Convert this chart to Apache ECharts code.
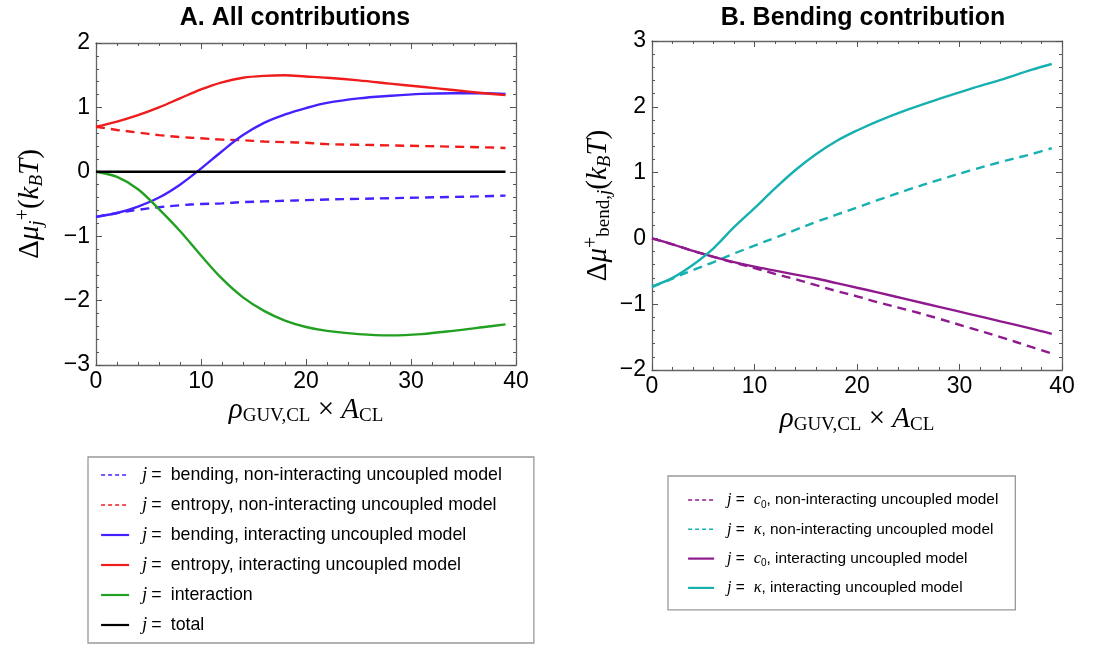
<!DOCTYPE html>
<html>
<head>
<meta charset="utf-8">
<script src="https://cdn.jsdelivr.net/npm/echarts@6/dist/echarts.min.js"></script>
<style>
html,body{margin:0;padding:0;background:#fff;}
#main{width:1112px;height:648px;}
</style>
</head>
<body>
<div id="main"></div>
<script>
// x values shared by all curves
var xs = [0, 2, 4, 6, 8, 10, 12, 14, 16, 18, 20, 22, 25, 28, 31, 34, 37, 39];

// A. all contributions
var bendNonInt    = [-0.70, -0.64, -0.59, -0.55, -0.52, -0.50, -0.49, -0.47, -0.46, -0.45, -0.44, -0.43, -0.42, -0.41, -0.40, -0.39, -0.38, -0.37];
var entropyNonInt = [0.70, 0.65, 0.61, 0.57, 0.54, 0.52, 0.50, 0.49, 0.47, 0.46, 0.45, 0.43, 0.42, 0.41, 0.40, 0.39, 0.38, 0.37];
var bendInt       = [-0.70, -0.64, -0.54, -0.40, -0.20, 0.05, 0.32, 0.57, 0.76, 0.89, 0.99, 1.07, 1.14, 1.18, 1.21, 1.22, 1.22, 1.21];
var entropyInt    = [0.70, 0.78, 0.88, 1.00, 1.14, 1.28, 1.39, 1.46, 1.49, 1.50, 1.48, 1.46, 1.42, 1.37, 1.32, 1.27, 1.22, 1.19];
var interaction   = [0, -0.08, -0.27, -0.58, -0.92, -1.30, -1.66, -1.95, -2.16, -2.31, -2.41, -2.47, -2.52, -2.54, -2.52, -2.47, -2.41, -2.37];
var total         = [0, 0, 0, 0, 0, 0, 0, 0, 0, 0, 0, 0, 0, 0, 0, 0, 0, 0];

// B. bending contribution
var c0NonInt    = [0, -0.09, -0.19, -0.28, -0.37, -0.45, -0.54, -0.62, -0.71, -0.80, -0.88, -0.97, -1.09, -1.22, -1.36, -1.50, -1.65, -1.75];
var kappaNonInt = [-0.74, -0.61, -0.48, -0.36, -0.23, -0.11, 0.01, 0.13, 0.25, 0.36, 0.47, 0.58, 0.74, 0.89, 1.03, 1.16, 1.28, 1.37];
var c0Int       = [0, -0.09, -0.19, -0.28, -0.36, -0.43, -0.49, -0.55, -0.61, -0.68, -0.75, -0.82, -0.93, -1.04, -1.15, -1.26, -1.37, -1.45];
var kappaInt    = [-0.73, -0.60, -0.40, -0.15, 0.17, 0.46, 0.76, 1.04, 1.28, 1.48, 1.64, 1.78, 1.96, 2.12, 2.27, 2.41, 2.56, 2.65];

// min, max, interval
var xTicks = [0, 40, 10];
var yTicksA = [-3, 2, 1];
var yTicksB = [-2, 3, 1];

function pairs(ys) {
	return xs.map(function (x, i) { return [x, ys[i]]; });
}

var BLUE = '#4422ff', RED = '#f01c1c', GREEN = '#22a022', BLACK = '#000000';
var TEAL = '#17b0b0', PURPLE = '#8e1a8e';
var DASH = [9, 6];

var chart = echarts.init(document.getElementById('main'));

var mathRich = {
	n: {fontFamily: 'Liberation Serif', fontSize: 29, color: '#000'},
	i: {fontFamily: 'Liberation Serif', fontStyle: 'italic', fontSize: 29, color: '#000'},
	sb: {fontFamily: 'Liberation Serif', fontSize: 19, color: '#000', verticalAlign: 'bottom', padding: [9, 0, 0, 0]},
	sbi: {fontFamily: 'Liberation Serif', fontStyle: 'italic', fontSize: 19, color: '#000', verticalAlign: 'bottom', padding: [9, 0, 0, 0]},
	sp: {fontFamily: 'Liberation Serif', fontSize: 20, color: '#000', verticalAlign: 'top', padding: [0, 0, 11, 0]}
};

function minus(v) {
	return String(v).replace('-', '\u2212');
}

function frameAxes(grid, range, isX, name, gap) {
	var tick = {show: true, inside: true, length: 6, lineStyle: {color: '#555', width: 1}};
	var minor = {show: true, splitNumber: 5, length: 3, lineStyle: {color: '#555', width: 1}};
	var line = {show: true, onZero: false, lineStyle: {color: '#666', width: 1.3}};
	var main = {
		type: 'value', gridIndex: grid, min: range[0], max: range[1], interval: range[2],
		axisLine: line, axisTick: tick, minorTick: minor, splitLine: {show: false},
		axisLabel: {color: '#000', fontFamily: 'Liberation Sans', fontSize: 23, margin: isX ? 5 : 6, formatter: minus},
		name: name, nameLocation: 'middle', nameGap: gap,
		nameTextStyle: {rich: mathRich, lineHeight: 32}
	};
	if (!isX) main.nameRotate = 90;
	var other = {
		type: 'value', gridIndex: grid, min: range[0], max: range[1], interval: range[2],
		position: isX ? 'top' : 'right',
		axisLine: line, axisTick: tick, minorTick: minor, splitLine: {show: false},
		axisLabel: {show: false}
	};
	return [main, other];
}

var xName = '{i|ρ}{sb|GUV,CL}{n| × }{i|A}{sb|CL}';
var yNameA = '{n|Δ}{i|μ}{sbi|j}{sp|+}{n|(}{i|k}{sbi|B}{i|T}{n|)}';
var yNameB = '{n|Δ}{i|μ}{sp|+}{sb|bend,}{sbi|j}{n|(}{i|k}{sbi|B}{i|T}{n|)}';

var xAxes = frameAxes(0, xTicks, true, xName, 28).concat(frameAxes(1, xTicks, true, xName, 28));
var yAxes = frameAxes(0, yTicksA, false, yNameA, 50).concat(frameAxes(1, yTicksB, false, yNameB, 38));

function line(name, data, color, dashed, xi, yi) {
	return {
		name: name, type: 'line', xAxisIndex: xi, yAxisIndex: yi,
		data: pairs(data), showSymbol: false, symbol: 'none', smooth: 0.35,
		lineStyle: {color: color, width: 2.4, type: dashed ? DASH : 'solid'},
		itemStyle: {color: color}, z: dashed ? 3 : 4
	};
}

var legendLabels = {
	'bendNonInt': '{j|j}{eq|=}bending, non-interacting uncoupled model',
	'entropyNonInt': '{j|j}{eq|=}entropy, non-interacting uncoupled model',
	'bendInt': '{j|j}{eq|=}bending, interacting uncoupled model',
	'entropyInt': '{j|j}{eq|=}entropy, interacting uncoupled model',
	'interaction': '{j|j}{eq|=}interaction',
	'total': '{j|j}{eq|=}total',
	'c0NonInt': '{j|j}{eq|=}{i|c}{s|0}, non-interacting uncoupled model',
	'kappaNonInt': '{j|j}{eq|=}{i|κ}, non-interacting uncoupled model',
	'c0Int': '{j|j}{eq|=}{i|c}{s|0}, interacting uncoupled model',
	'kappaInt': '{j|j}{eq|=}{i|κ}, interacting uncoupled model'
};

function legRich(size) {
	return {
		j: {fontFamily: 'Liberation Serif', fontStyle: 'italic', fontSize: size + 1, padding: [0, 4, 0, 8]},
		eq: {fontFamily: 'Liberation Sans', fontSize: size, padding: [0, 9, 0, 0]},
		i: {fontFamily: 'Liberation Serif', fontStyle: 'italic', fontSize: size + 1},
		s: {fontFamily: 'Liberation Sans', fontSize: 10, verticalAlign: 'bottom', padding: [6, 0, 0, 0]}
	};
}

function legendData(names, dashed) {
	return names.map(function (n, k) {
		return dashed[k] ? {name: n, lineStyle: {type: [4, 3], width: 1.6}} : {name: n, lineStyle: {type: 'solid', width: 2.2}};
	});
}

var option = {
	backgroundColor: '#fff',
	animation: false,
	title: [
		{text: 'A. All contributions', left: 290, top: 1, textAlign: 'center',
			textStyle: {fontFamily: 'Liberation Sans', fontWeight: 'bold', fontSize: 25, color: '#000'}},
		{text: 'B. Bending contribution', left: 858, top: 1, textAlign: 'center',
			textStyle: {fontFamily: 'Liberation Sans', fontWeight: 'bold', fontSize: 25, color: '#000'}}
	],
	grid: [
		{left: 96, top: 43, width: 420, height: 322},
		{left: 652, top: 41, width: 410, height: 329}
	],
	xAxis: xAxes,
	yAxis: yAxes,
	legend: [
		{
			orient: 'vertical', left: 88, top: 457, height: 260, itemWidth: 28, itemHeight: 14, itemGap: 10,
			padding: [8, 32, 8, 12], borderColor: '#999', borderWidth: 1.3,
			itemStyle: {opacity: 0},
			data: legendData(['bendNonInt', 'entropyNonInt', 'bendInt', 'entropyInt', 'interaction', 'total'],
				[true, true, false, false, false, false]),
			formatter: function (n) { return legendLabels[n]; },
			textStyle: {fontFamily: 'Liberation Sans', fontSize: 17.8, lineHeight: 20, color: '#000', rich: legRich(17.8)}
		},
		{
			orient: 'vertical', left: 668, top: 476, height: 200, itemWidth: 26, itemHeight: 14, itemGap: 9.3,
			padding: [14, 17, 12, 19], borderColor: '#999', borderWidth: 1.3,
			itemStyle: {opacity: 0},
			data: legendData(['c0NonInt', 'kappaNonInt', 'c0Int', 'kappaInt'], [true, true, false, false]),
			formatter: function (n) { return legendLabels[n]; },
			textStyle: {fontFamily: 'Liberation Sans', fontSize: 15.4, lineHeight: 20, color: '#000', rich: legRich(15.4)}
		}
	],
	series: [
		line('bendNonInt', bendNonInt, BLUE, true, 0, 0),
		line('entropyNonInt', entropyNonInt, RED, true, 0, 0),
		line('bendInt', bendInt, BLUE, false, 0, 0),
		line('entropyInt', entropyInt, RED, false, 0, 0),
		line('interaction', interaction, GREEN, false, 0, 0),
		line('total', total, BLACK, false, 0, 0),
		line('c0NonInt', c0NonInt, PURPLE, true, 2, 2),
		line('kappaNonInt', kappaNonInt, TEAL, true, 2, 2),
		line('c0Int', c0Int, PURPLE, false, 2, 2),
		line('kappaInt', kappaInt, TEAL, false, 2, 2)
	]
};
chart.setOption(option);
</script>
</body>
</html>
